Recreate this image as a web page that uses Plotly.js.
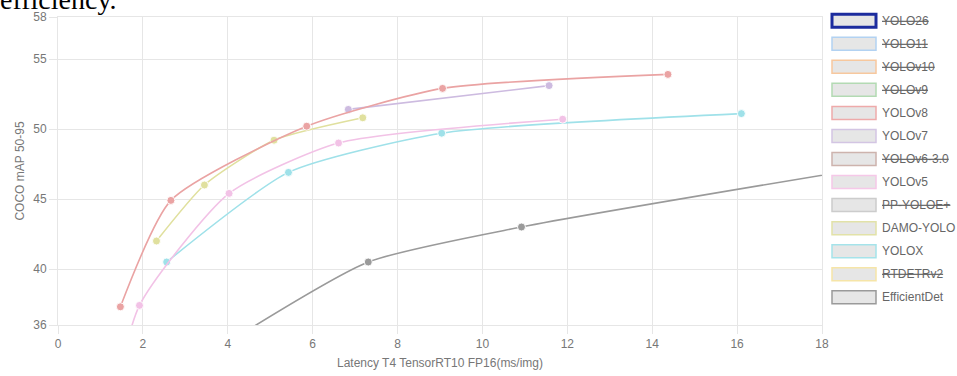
<!DOCTYPE html>
<html><head><meta charset="utf-8">
<script src="https://cdn.plot.ly/plotly-3.0.1.min.js"></script>
<style>html,body{margin:0;padding:0;background:#fff}#c{width:957px;height:376px}</style>
</head><body><div id="c"></div>
<script>
// Visible series (latency ms/img, COCO mAP 50-95)
var v8x = [1.47, 2.66, 5.86, 9.06, 14.37];
var v8y = [37.3, 44.9, 50.2, 52.9, 53.9];
var v7x = [6.84, 11.57];
var v7y = [51.4, 53.1];
var v5x = [1.12, 1.92, 4.03, 6.61, 11.89];
var v5y = [28.0, 37.4, 45.4, 49.0, 50.7];
var damoX = [2.32, 3.45, 5.09, 7.18];
var damoY = [42.0, 46.0, 49.2, 50.8];
var yoloxX = [2.56, 5.43, 9.04, 16.1];
var yoloxY = [40.5, 46.9, 49.7, 51.1];
var effX = [3.92, 7.31, 10.92, 19.59];
var effY = [34.6, 40.5, 43.0, 47.5];

// Legend entries
var legendNames = ["YOLO26","YOLO11","YOLOv10","YOLOv9","YOLOv8","YOLOv7","YOLOv6-3.0","YOLOv5","PP-YOLOE+","DAMO-YOLO","YOLOX","RTDETRv2","EfficientDet"];
var legendHidden = [true,true,true,true,false,false,true,false,true,false,false,true,false];
var legendColors = ["#1c2c9e","#b2d2f2","#f7c89e","#b3dab3","#eeaaaa","#d3c5e3","#cdb3ad","#f5c8e8","#cccccc","#e2e2a8","#a5e3ea","#f6e5a8","#9a9a9a"];

var xTicks = [0,2,4,6,8,10,12,14,16,18];
var yTicks = [36,40,45,50,55,58];

function tr(x, y, color) {
  return {x: x, y: y, type: 'scatter', mode: 'lines+markers',
    line: {color: color, width: 1.6, shape: 'spline', smoothing: 0.6},
    marker: {color: color, size: 8, line: {color: 'rgba(255,255,255,0.9)', width: 1}},
    showlegend: false, cliponaxis: true, hoverinfo: 'x+y'};
}
var data = [
  tr(effX, effY, '#9a9a9a'),
  tr(yoloxX, yoloxY, '#9fe1e9'),
  tr(v5x, v5y, '#f2c2e6'),
  tr(damoX, damoY, '#e0e09e'),
  tr(v7x, v7y, '#cdbbe0'),
  tr(v8x, v8y, '#eaa3a3')
];

var L = 58, R = 822, T = 17, B = 325;
function px2x(p){return (p - L)/(R - L);}
function py2y(p){return (B - p)/(B - T);}
var shapes = [], anns = [];
for (var i = 0; i < legendNames.length; i++) {
  var cy = 20.7 + 23.05*i;
  shapes.push({type:'rect', xref:'paper', yref:'paper',
    x0: px2x(832), x1: px2x(876), y0: py2y(cy+6.5), y1: py2y(cy-6.5),
    fillcolor:'#e6e6e6', line:{color: legendColors[i], width: i===0 ? 3 : 1.5}});
  anns.push({xref:'paper', yref:'paper', x: px2x(880), y: py2y(cy), xanchor:'left', yanchor:'middle',
    text: legendHidden[i] ? '<s>' + legendNames[i] + '</s>' : legendNames[i],
    showarrow:false, font:{family:'Liberation Sans, Arial, sans-serif', size:12, color:'#666'}});
}
anns.push({xref:'paper', yref:'paper', x:0, y:1, xanchor:'left', yanchor:'bottom', xshift:-60, yshift:0,
  text:'efficiency.', showarrow:false, font:{family:'Liberation Serif, Times New Roman, serif', size:28, color:'#000'}});

var axFont = {family:'Liberation Sans, Arial, sans-serif', size:12, color:'#777'};
var layout = {
  width: 957, height: 376,
  margin: {l: L, r: 957 - R, t: T, b: 376 - B},
  paper_bgcolor:'#fff', plot_bgcolor:'#fff',
  showlegend: false,
  xaxis: {range:[0,18], tickvals: xTicks, ticktext: xTicks.map(String), showgrid:true, gridcolor:'#e6e6e6',
    zeroline:false, showline:true, mirror:true, linecolor:'#e6e6e6', ticks:'outside', ticklen:8, tickcolor:'#e6e6e6',
    tickfont: axFont,
    title:{text:'Latency T4 TensorRT10 FP16(ms/img)', font:axFont, standoff: 8}},
  yaxis: {range:[36,58], tickvals: yTicks, ticktext: yTicks.map(String), showgrid:true, gridcolor:'#e6e6e6',
    zeroline:false, showline:true, mirror:true, linecolor:'#e6e6e6', ticks:'outside', ticklen:8, tickcolor:'#e6e6e6',
    tickfont: axFont,
    title:{text:'COCO mAP 50-95', font:axFont, standoff: 6}},
  shapes: shapes, annotations: anns
};
Plotly.newPlot('c', data, layout, {displayModeBar:false, staticPlot:true});
</script></body></html>
